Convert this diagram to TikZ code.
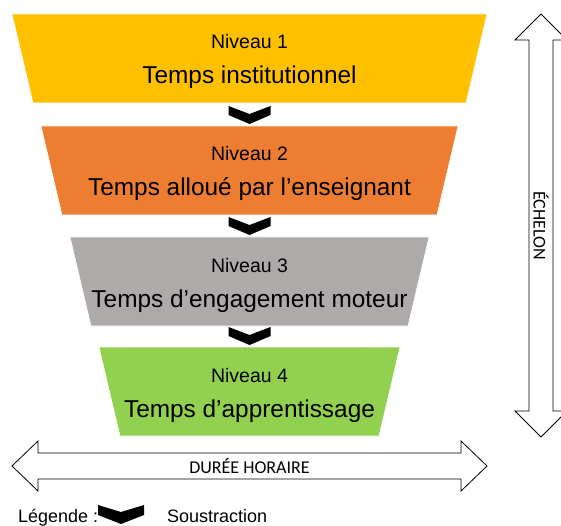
\documentclass[tikz,border=0pt]{standalone}
\usepackage{fontspec}
\setmainfont{Liberation Sans}
\newfontfamily\calibrifont{Carlito}
\usepackage{tikz}
\usetikzlibrary{calc}
\definecolor{levelone}{HTML}{FFC000}
\definecolor{leveltwo}{HTML}{ED7D31}
\definecolor{levelthree}{HTML}{AEAAAA}
\definecolor{levelfour}{HTML}{92D050}
\tikzset{level/.style={draw=white, line width=0.6pt}}
\tikzset{subtraction/.style={fill=black}}
\tikzset{blockarrow/.style={draw=black, fill=white, line width=0.8pt, line join=miter}}
\tikzset{smalltext/.style={font=\fontsize{19.5}{20}\selectfont, anchor=base, inner sep=0pt}}
\tikzset{bigtext/.style={font=\fontsize{24.4}{25}\selectfont, anchor=base, inner sep=0pt}}
\tikzset{axistext/.style={font=\calibrifont\fontsize{18}{19}\selectfont, inner sep=0pt}}
\tikzset{legendtext/.style={font=\fontsize{18}{19}\selectfont, anchor=base west, inner sep=0pt}}

\begin{document}
\begin{tikzpicture}[x=1pt, y=-1pt]
    \clip (0, 0) rectangle (561, 526);
    \fill[white] (0, 0) rectangle (561, 526);
    % the four levels
    \foreach \ytop/\hw/\col/\lvl/\label in {14/237.5/levelone/1/Temps institutionnel,
            126/208.5/leveltwo/2/Temps alloué par l’enseignant,
            237/179.5/levelthree/3/Temps d’engagement moteur,
            347/150.5/levelfour/4/Temps d’apprentissage}{
        \fill[level, fill=\col] (249.5-\hw, \ytop) -- (249.5+\hw, \ytop)
            -- (249.5+\hw-21, \ytop+89) -- (249.5-\hw+21, \ytop+89) -- cycle;
        \node[smalltext] (niveau\lvl) at (249.5, \ytop+35) {Niveau \lvl};
        \node[bigtext] (temps\lvl) at (249.5, \ytop+70) {\label};
    }
    % subtraction chevrons
    \foreach \ytop in {106, 217, 327}{
        \fill[subtraction, shift={(249.5, \ytop)}] (-21, 0) -- (0, 8) -- (21, 0)
            -- (21, 9) -- (0, 18) -- (-21, 9) -- cycle;
    }
    % duration arrow
    \draw[blockarrow] (12, 466) -- (38, 441) -- (38, 453) -- (461, 453) -- (461, 441)
        -- (487, 466) -- (461, 491) -- (461, 479) -- (38, 479) -- (38, 491) -- cycle;
    \node[axistext] (duree) at (249.5, 466) {DURÉE HORAIRE};
    % echelon arrow
    \draw[blockarrow] (541, 14) -- (567, 40) -- (553, 40) -- (553, 411) -- (567, 411)
        -- (541, 437) -- (515, 411) -- (529, 411) -- (529, 40) -- (515, 40) -- cycle;
    \node[axistext, rotate=-90] (echelon) at (541, 225.5) {ÉCHELON};
    % legend
    \node[legendtext] (legende) at (18, 522) {Légende :};
    \fill[subtraction, shift={(121, 505)}] (-23, 0) -- (0, 7) -- (23, 0)
        -- (23, 10) -- (0, 19) -- (-23, 10) -- cycle;
    \node[legendtext] (soustraction) at (167, 522) {Soustraction};
\end{tikzpicture}
\end{document}
